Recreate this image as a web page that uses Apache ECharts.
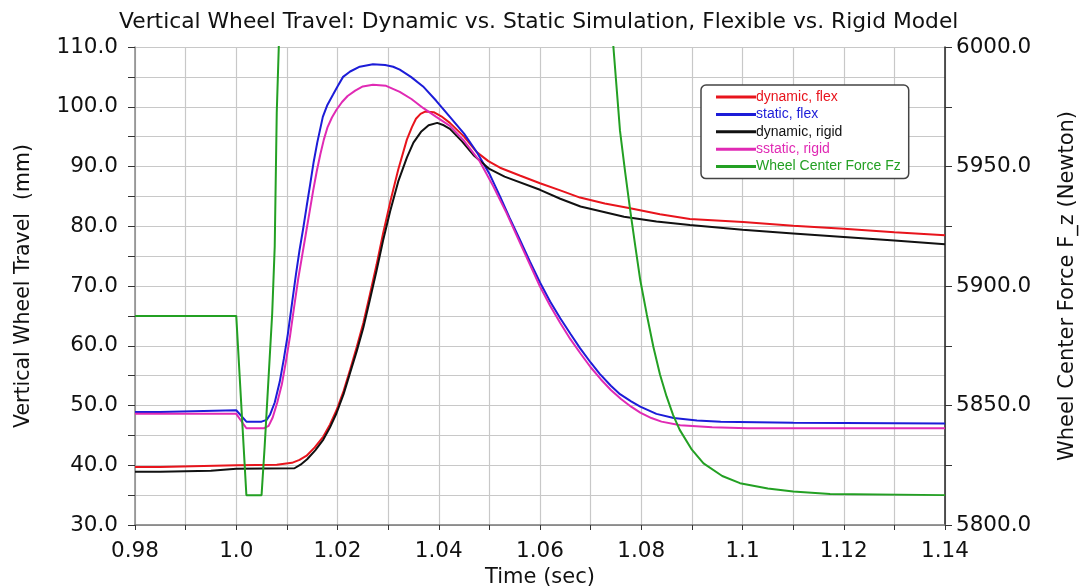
<!DOCTYPE html>
<html><head><meta charset="utf-8">
<script src="https://cdn.jsdelivr.net/npm/echarts@6/dist/echarts.min.js"></script>
<style>html,body{margin:0;padding:0;background:#fff}#c{width:1088px;height:586px}</style>
</head><body><div id="c"></div>
<script>
// [time (sec), vertical wheel travel (mm)]
const dynamicFlex = [[0.98,39.7],[0.985,39.7],[0.9851,40.0],[1.0,40.0],[1.008,40.1],[1.011,40.4],[1.0125,40.9],[1.0139,41.6],[1.0155,43.0],[1.0172,44.8],[1.0185,46.8],[1.0198,49.2],[1.0212,52.4],[1.0225,56.0],[1.0238,59.8],[1.0251,63.8],[1.0264,68.6],[1.0277,73.5],[1.029,78.8],[1.0304,84.0],[1.032,89.5],[1.0337,94.5],[1.0347,96.6],[1.0355,98.0],[1.0364,98.8],[1.0373,99.2],[1.039,99.1],[1.0405,98.4],[1.0422,97.3],[1.045,95.0],[1.0475,92.4],[1.0498,90.9],[1.0521,89.8],[1.056,88.5],[1.06,87.2],[1.064,86.0],[1.0679,84.8],[1.0728,83.8],[1.0778,83.0],[1.0837,82.0],[1.0896,81.2],[1.1001,80.7],[1.11,80.1],[1.12,79.6],[1.13,79.0],[1.14,78.5]];
const staticFlex = [[0.98,48.9],[0.985,48.9],[0.9851,49.2],[1.0,49.2],[1.002,47.3],[1.005,47.3],[1.006,47.6],[1.0067,48.5],[1.0076,50.5],[1.0086,54.0],[1.0094,57.8],[1.0102,62.0],[1.011,67.0],[1.0118,72.0],[1.0125,76.0],[1.0132,79.5],[1.0139,83.3],[1.0146,87.0],[1.0153,90.8],[1.016,94.0],[1.0171,98.3],[1.018,100.3],[1.0191,102.0],[1.02,103.4],[1.0211,105.0],[1.0225,105.9],[1.0244,106.7],[1.027,107.1],[1.0294,107.0],[1.031,106.7],[1.0323,106.2],[1.0345,105.0],[1.0369,103.4],[1.0395,101.0],[1.0422,98.3],[1.045,95.5],[1.0476,92.3],[1.05,88.8],[1.0521,85.0],[1.054,81.4],[1.056,77.8],[1.058,74.1],[1.06,70.6],[1.062,67.4],[1.064,64.6],[1.066,62.0],[1.0679,59.6],[1.07,57.2],[1.0718,55.3],[1.074,53.3],[1.0758,51.9],[1.078,50.7],[1.0798,49.8],[1.083,48.6],[1.0864,47.9],[1.091,47.5],[1.0957,47.3],[1.11,47.1],[1.14,47.0]];
const dynamicRigid = [[0.98,38.9],[0.985,38.9],[0.9851,39.1],[0.995,39.1],[0.9951,39.4],[1.0,39.4],[1.0115,39.5],[1.0127,40.1],[1.014,41.0],[1.0156,42.5],[1.0172,44.3],[1.0185,46.3],[1.0198,48.7],[1.0212,51.9],[1.0225,55.5],[1.0238,59.1],[1.0251,63.0],[1.0264,67.7],[1.0277,72.5],[1.029,77.6],[1.0304,82.5],[1.032,87.5],[1.0337,91.5],[1.035,94.0],[1.0365,95.8],[1.038,96.9],[1.0397,97.3],[1.041,96.9],[1.0422,96.3],[1.0446,94.2],[1.047,91.8],[1.05,89.6],[1.053,88.3],[1.06,86.1],[1.064,84.6],[1.068,83.3],[1.0766,81.6],[1.083,80.8],[1.0896,80.2],[1.1,79.4],[1.11,78.8],[1.12,78.2],[1.13,77.6],[1.14,77.0]];
const staticRigid = [[0.98,48.6],[1.0,48.6],[1.002,46.2],[1.0055,46.2],[1.0064,46.6],[1.0072,48.0],[1.0081,50.5],[1.009,53.5],[1.0098,57.3],[1.0106,61.5],[1.0114,66.3],[1.0122,71.0],[1.013,75.0],[1.0137,78.5],[1.0145,82.5],[1.0152,86.0],[1.0159,89.2],[1.0166,92.0],[1.0173,94.5],[1.018,96.5],[1.0189,98.2],[1.0198,99.5],[1.0209,100.8],[1.022,101.8],[1.0235,102.7],[1.025,103.4],[1.027,103.7],[1.0296,103.5],[1.0323,102.5],[1.0346,101.3],[1.0369,99.8],[1.0395,98.3],[1.0422,96.8],[1.045,94.3],[1.048,91.0],[1.0507,86.8],[1.0534,82.2],[1.0567,76.0],[1.06,69.9],[1.062,66.7],[1.064,63.8],[1.066,61.1],[1.068,58.7],[1.07,56.4],[1.072,54.4],[1.074,52.6],[1.076,51.1],[1.078,49.8],[1.0798,48.8],[1.082,47.9],[1.084,47.3],[1.0877,46.7],[1.094,46.35],[1.101,46.2],[1.14,46.2]];
// [time (sec), wheel center force Fz (N)]
const wheelForceFz = [[0.98,5887.5],[1.0,5887.5],[1.002,5812.5],[1.005,5812.5],[1.0056,5832.5],[1.0071,5888.5],[1.0076,5916.5],[1.008,5972.5],[1.0084,6000],[1.0092,6050],[1.0738,6019],[1.0745,6000],[1.0758,5965],[1.0768,5948],[1.0778,5932],[1.0788,5917],[1.0798,5902.5],[1.0811,5888],[1.0824,5874.5],[1.0837,5863],[1.085,5853.8],[1.0863,5846],[1.0876,5839.8],[1.09,5831.5],[1.0923,5825.8],[1.096,5820.5],[1.0995,5817.5],[1.105,5815.3],[1.11,5814.0],[1.1173,5813.0],[1.14,5812.5]];

const seriesNames = ['dynamic, flex','static, flex','dynamic, rigid','sstatic, rigid','Wheel Center Force Fz'];
const seriesColors = ['#e8141c','#1c1cd8','#111111','#e02ab4','#23a023'];

const FONT = 'DejaVu Sans';
const chart = echarts.init(document.getElementById('c'));
const mk = (i, data, yIdx) => ({
  name: seriesNames[i], type: 'line', data: data, yAxisIndex: yIdx,
  symbol: 'none', smooth: false, clip: true, animation: false,
  lineStyle: {color: seriesColors[i], width: 2}, itemStyle: {color: seriesColors[i]}
});
chart.setOption({
  animation: false,
  backgroundColor: '#fff',
  title: {text: 'Vertical Wheel Travel: Dynamic vs. Static Simulation, Flexible vs. Rigid Model', left: 114, top: 6,
    textStyle: {fontFamily: FONT, fontSize: 21.8, fontWeight: 'normal', color: '#111'}},
  grid: {left: 135, right: 143, top: 47, bottom: 61, containLabel: false, outerBoundsMode: 'none'},
  legend: {
    orient: 'vertical', left: 701, top: 85, icon: 'rect', itemWidth: 40, itemHeight: 3, itemGap: 3.4,
    backgroundColor: '#fff', borderColor: '#444', borderWidth: 1.5, borderRadius: 5,
    padding: [5, 8, 5, 15],
    textStyle: {fontFamily: 'Liberation Sans', fontSize: 14, lineHeight: 14, padding: [0,0,0,-5]},
    data: seriesNames.map((n, i) => ({name: n, textStyle: {color: seriesColors[i]}}))
  },
  xAxis: {
    type: 'value', min: 0.98, max: 1.14, interval: 0.01,
    name: 'Time (sec)', nameLocation: 'middle', nameGap: 39,
    nameTextStyle: {fontFamily: FONT, fontSize: 21, color: '#111'},
    axisLine: {show: true, lineStyle: {color: '#777', width: 1.5}},
    axisTick: {show: true, length: 5, inside: false, lineStyle: {color: '#333'}},
    axisLabel: {fontFamily: FONT, fontSize: 21.5, color: '#111', margin: 15,
      formatter: v => { const k = Math.round(v * 100); if (k % 2) return ''; let s = String(k / 100); if (s.indexOf('.') < 0) s += '.0'; return s; }},
    splitLine: {show: true, lineStyle: {color: '#c8c8c8', width: 1.2}}
  },
  yAxis: [{
    type: 'value', min: 30, max: 110, interval: 5, position: 'left',
    name: 'Vertical Wheel Travel  (mm)', nameLocation: 'middle', nameGap: 101, nameRotate: 90,
    nameTextStyle: {fontFamily: FONT, fontSize: 20.5, color: '#111'},
    axisLine: {show: true, lineStyle: {color: '#888', width: 1.5}},
    axisTick: {show: true, length: 7, lineStyle: {color: '#333'}},
    axisLabel: {fontFamily: FONT, fontSize: 21.5, color: '#111', margin: 17,
      formatter: v => (v % 10 === 0 ? v.toFixed(1) : '')},
    splitLine: {show: true, lineStyle: {color: '#c8c8c8', width: 1.2}}
  }, {
    type: 'value', min: 5800, max: 6000, interval: 25, position: 'right',
    name: 'Wheel Center Force F_z (Newton)', nameLocation: 'middle', nameGap: 112, nameRotate: 90,
    nameTextStyle: {fontFamily: FONT, fontSize: 21, color: '#111'},
    axisLine: {show: true, lineStyle: {color: '#222', width: 1.5}},
    axisTick: {show: true, length: 7, lineStyle: {color: '#333'}},
    axisLabel: {fontFamily: FONT, fontSize: 21.5, color: '#111', margin: 11,
      formatter: v => (v % 50 === 0 ? v.toFixed(1) : '')},
    splitLine: {show: false}
  }],
  series: [mk(0, dynamicFlex, 0), mk(1, staticFlex, 0), mk(2, dynamicRigid, 0), mk(3, staticRigid, 0), mk(4, wheelForceFz, 1)]
});
</script></body></html>
